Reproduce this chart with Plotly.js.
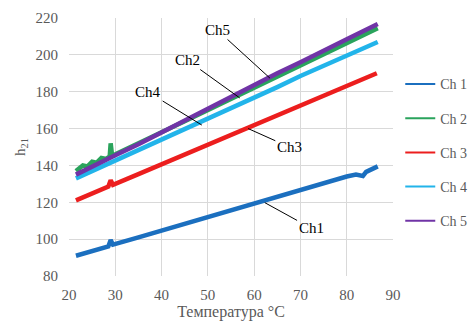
<!DOCTYPE html>
<html>
<head>
<meta charset="utf-8">
<script src="https://cdn.plot.ly/plotly-3.0.1.min.js"></script>
<style>html,body{margin:0;padding:0;background:#fff;}#chart{width:472px;height:330px;}</style>
</head>
<body>
<div id="chart"></div>
<script>
// Temperature (°C) sample points per channel
const ch1X = [21.5, 25, 28.5, 29, 29.5, 35, 40, 45, 50, 55, 60, 65, 70, 75, 80, 82, 83.5, 84.2, 86.7];
const ch1Y = [91, 93.5, 96, 99.5, 97, 101, 104.7, 108.4, 112, 115.7, 119.4, 123, 126.8, 130.5, 134, 135, 134.3, 136.5, 139.5];

const ch2X = [21.5, 23, 24, 25, 26, 27, 28, 28.8, 29, 29.3, 30, 32, 34, 36, 38, 40, 45, 50, 55, 60, 65, 70, 75, 80, 86.7];
const ch2Y = [137, 140, 139.5, 142, 141.5, 144, 143.5, 145, 152, 145.5, 146, 148.5, 151, 153.5, 155.5, 158, 164, 170, 176.5, 182.5, 188.5, 194.5, 200.5, 206.5, 214.5];

const ch3X = [21.5, 25, 28.5, 29, 29.5, 35, 40, 45, 50, 55, 60, 65, 70, 75, 80, 86.5];
const ch3Y = [121, 124.7, 128.5, 132, 129.5, 135.3, 140.6, 146, 151.3, 156.6, 161.9, 167.2, 172.5, 177.8, 183.1, 190];

const ch4X = [21.5, 25, 30, 35, 40, 45, 50, 55, 60, 65, 70, 75, 80, 86.7];
const ch4Y = [133, 137, 142.5, 148, 153.5, 159.5, 165, 171, 177, 182.5, 188.5, 194, 199.5, 207];

const ch5X = [21.5, 25, 30, 35, 40, 45, 50, 55, 60, 65, 70, 75, 80, 86.7];
const ch5Y = [135, 139.5, 145.5, 151.5, 158, 164.5, 170.5, 177, 183.5, 190, 196, 202.5, 208.5, 216.7];

const names = ['Ch 1', 'Ch 2', 'Ch 3', 'Ch 4', 'Ch 5'];
const colors = ['#1b6fbf', '#2aa35c', '#ec1e1e', '#22b4ea', '#7034a6'];
const xs = [ch1X, ch2X, ch3X, ch4X, ch5X];
const ys = [ch1Y, ch2Y, ch3Y, ch4Y, ch5Y];

// Label annotations: [text, label x, label y, point x, point y]
const labels = [
  ['Ch5', 52.0, 213.5, 63.4, 187.4],
  ['Ch2', 45.5, 197.2, 56.9, 176.6],
  ['Ch4', 37.1, 179.8, 48.7, 161.9],
  ['Ch3', 67.6, 150.0, 58.7, 160.0],
  ['Ch1', 72.3, 106.0, 62.3, 119.8]
];

const fontFam = '"Liberation Serif", "Times New Roman", serif';

// Thick data lines (no legend entries)
const dataTraces = names.map((n, i) => ({
  x: xs[i], y: ys[i], name: n, type: 'scatter', mode: 'lines',
  showlegend: false,
  line: {color: colors[i], width: 4.5}
}));
// Thin legend keys (empty traces)
const legendTraces = names.map((n, i) => ({
  x: [null], y: [null], name: n, type: 'scatter', mode: 'lines',
  legendgroup: 'g' + i, showlegend: true,
  line: {color: colors[i], width: 2}
}));

const annotations = labels.map(l => ({
  text: l[0], x: l[3], y: l[4], ax: l[1], ay: l[2],
  xref: 'x', yref: 'y', axref: 'x', ayref: 'y',
  showarrow: true, arrowhead: 0, arrowwidth: 1, arrowcolor: '#000',
  font: {family: fontFam, size: 15, color: '#000'}
}));

const layout = {
  width: 472, height: 330,
  margin: {l: 69, r: 79, t: 18, b: 54},
  paper_bgcolor: '#fff', plot_bgcolor: '#fff',
  font: {family: fontFam, size: 15, color: '#595959'},
  xaxis: {
    range: [20, 90], dtick: 10, tick0: 20,
    showgrid: true, gridcolor: '#d9d9d9', gridwidth: 1,
    zeroline: false, showline: false, ticks: '',
    ticklabelstandoff: 8,
    tickfont: {family: fontFam, size: 15, color: '#595959'},
    title: {text: 'Температура °С', font: {family: fontFam, size: 16, color: '#595959'}, standoff: 3}
  },
  yaxis: {
    range: [80, 220], dtick: 20, tick0: 80,
    showgrid: true, gridcolor: '#d9d9d9', gridwidth: 1,
    zeroline: false, showline: false, ticks: '',
    ticklabelstandoff: 10,
    tickfont: {family: fontFam, size: 15, color: '#595959'},
    title: {text: 'h<sub>21</sub>', font: {family: fontFam, size: 15, color: '#595959'}, standoff: 6}
  },
  showlegend: true,
  legend: {
    xref: 'container', x: 0.848, y: 0.479, xanchor: 'left', yanchor: 'middle',
    tracegroupgap: 13, itemwidth: 30,
    font: {family: fontFam, size: 14, color: '#595959'},
    bgcolor: 'rgba(0,0,0,0)'
  },
  annotations: annotations
};

Plotly.newPlot('chart', dataTraces.concat(legendTraces), layout, {displayModeBar: false, staticPlot: true});
</script>
</body>
</html>
